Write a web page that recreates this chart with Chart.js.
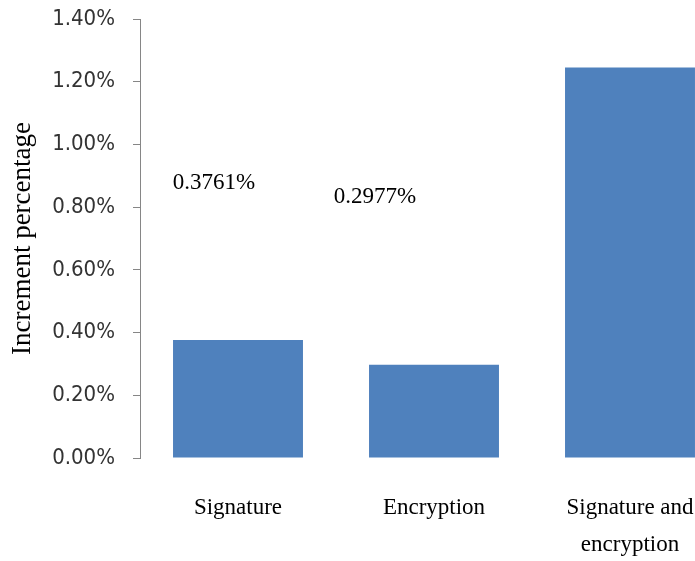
<!DOCTYPE html>
<html>
<head>
<meta charset="utf-8">
<script src="https://cdn.jsdelivr.net/npm/chart.js@4/dist/chart.umd.min.js"></script>
<style>
  html, body { margin: 0; padding: 0; background: #fff; overflow: hidden; }
  #wrap { position: relative; width: 740px; height: 561px; }
</style>
</head>
<body>
<div id="wrap"><canvas id="c" width="740" height="561"></canvas></div>
<script>
// Increment percentage per security operation
const categories = [
  'Signature',
  'Encryption',
  ['Signature and', 'encryption']
];
const incrementPct = [0.3761, 0.2977, 1.245];
const valueLabels = ['0.3761%', '0.2977%', null];
const yTickMax = 1.4;
const yTickStep = 0.2;

// where the printed value labels sit: horizontal shift from the bar centre, and height on the value axis
const labelPlacement = [
  { dx: -24, at: 0.876 },
  { dx: -59, at: 0.834 },
  null
];

const valueLabelPlugin = {
  id: 'valueLabels',
  afterDatasetsDraw(chart) {
    const ctx = chart.ctx;
    const meta = chart.getDatasetMeta(0);
    const y = chart.scales.y;
    ctx.save();
    ctx.font = '23px "Liberation Serif", "Times New Roman", serif';
    ctx.fillStyle = '#000';
    ctx.textAlign = 'center';
    ctx.textBaseline = 'middle';
    meta.data.forEach((bar, i) => {
      const text = valueLabels[i];
      const p = labelPlacement[i];
      if (!text || !p) return;
      ctx.fillText(text, bar.x + p.dx, y.getPixelForValue(p.at));
    });
    ctx.restore();
  }
};

new Chart(document.getElementById('c'), {
  type: 'bar',
  data: {
    labels: categories,
    datasets: [{
      data: incrementPct,
      backgroundColor: '#4F81BD',
      borderWidth: 0,
      categoryPercentage: 1.0,
      barPercentage: 0.663
    }]
  },
  options: {
    responsive: false,
    animation: false,
    layout: { padding: { top: 19, right: 12, left: 0, bottom: 0 } },
    plugins: {
      legend: { display: false },
      tooltip: { enabled: false }
    },
    scales: {
      x: {
        grid: { display: false, drawTicks: false },
        border: { display: false },
        ticks: {
          color: '#000',
          padding: 32,
          autoSkip: false,
          maxRotation: 0,
          font: { family: '"Liberation Serif", "Times New Roman", serif', size: 23, lineHeight: 1.6 }
        },
        afterFit(scale) {
          scale.height = 103;
          scale.paddingLeft = 0;
          scale.paddingRight = 0;
        }
      },
      y: {
        min: 0,
        max: yTickMax,
        border: { display: true, color: '#868686', width: 1 },
        grid: { drawOnChartArea: false, drawTicks: true, tickLength: 7, color: '#868686' },
        ticks: {
          stepSize: yTickStep,
          padding: 18,
          color: '#333',
          font: { family: '"Liberation Sans Narrow", "DejaVu Sans Condensed", "Liberation Sans", sans-serif', size: 22 },
          callback: (v) => v.toFixed(2) + '%'
        },
        title: {
          display: true,
          text: 'Increment percentage',
          color: '#000',
          padding: { top: 7, bottom: 0 },
          font: { family: '"Liberation Serif", "Times New Roman", serif', size: 27, lineHeight: 1.2 }
        },
        afterFit(scale) {
          scale.width = 140;
          scale.paddingTop = 0;
          scale.paddingBottom = 0;
        }
      }
    }
  },
  plugins: [valueLabelPlugin]
});
</script>
</body>
</html>
